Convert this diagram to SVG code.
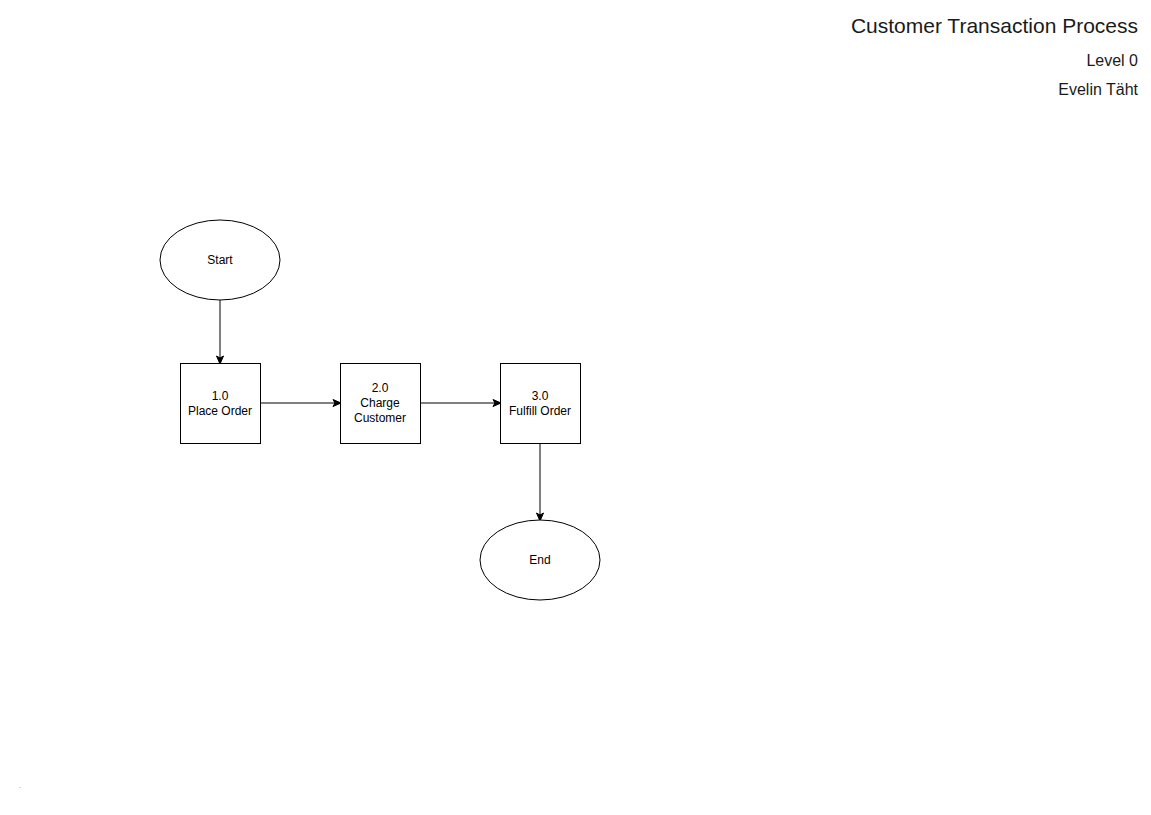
<svg xmlns="http://www.w3.org/2000/svg" width="1151" height="815" viewBox="0 0 1151 815">
<style>
.shape{fill:#ffffff;stroke:#000000;stroke-width:1}
.lbl{font-family:"Liberation Sans",Arial,sans-serif;font-size:12px;fill:#000000;text-anchor:middle}
.hdr{font-family:"Liberation Sans",Arial,sans-serif;fill:#1a1a1a;text-anchor:end}
.edge{stroke:#000000;stroke-width:1;fill:none;marker-end:url(#arr)}
</style>
<defs>
<marker id="arr" markerWidth="10" markerHeight="10" refX="8" refY="5" orient="auto" markerUnits="userSpaceOnUse">
<path d="M1,1.5 L9,5 L1,8.5 L3,5 Z" fill="#000000" stroke="#000000" stroke-width="1"/>
</marker>
</defs>
<rect width="1151" height="815" fill="#ffffff"/>
<g id="header">
<text class="hdr" x="1138" y="33" font-size="21">Customer Transaction Process</text>
<text class="hdr" x="1138" y="66" font-size="16">Level 0</text>
<text class="hdr" x="1138" y="95" font-size="16">Evelin Täht</text>
</g>
<g id="connectors">
<line class="edge" x1="220" y1="300" x2="220" y2="363"/>
<line class="edge" x1="260" y1="403" x2="340" y2="403"/>
<line class="edge" x1="420" y1="403" x2="500" y2="403"/>
<line class="edge" x1="540" y1="443" x2="540" y2="520"/>
</g>
<g id="start">
<ellipse class="shape" cx="220" cy="260" rx="60" ry="40"/>
<text class="lbl" x="220" y="264">Start</text>
</g>
<g id="p1">
<rect class="shape" x="180.5" y="363.5" width="80" height="80"/>
<text class="lbl" x="220" y="400">1.0</text>
<text class="lbl" x="220" y="415">Place Order</text>
</g>
<g id="p2">
<rect class="shape" x="340.5" y="363.5" width="80" height="80"/>
<text class="lbl" x="380" y="392">2.0</text>
<text class="lbl" x="380" y="407">Charge</text>
<text class="lbl" x="380" y="422">Customer</text>
</g>
<g id="p3">
<rect class="shape" x="500.5" y="363.5" width="80" height="80"/>
<text class="lbl" x="540" y="400">3.0</text>
<text class="lbl" x="540" y="415">Fulfill Order</text>
</g>
<g id="end">
<ellipse class="shape" cx="540" cy="560" rx="60" ry="40"/>
<text class="lbl" x="540" y="564">End</text>
</g>
<text x="19" y="788" font-family="Liberation Sans,Arial,sans-serif" font-size="6" fill="#000000">.</text>
</svg>
